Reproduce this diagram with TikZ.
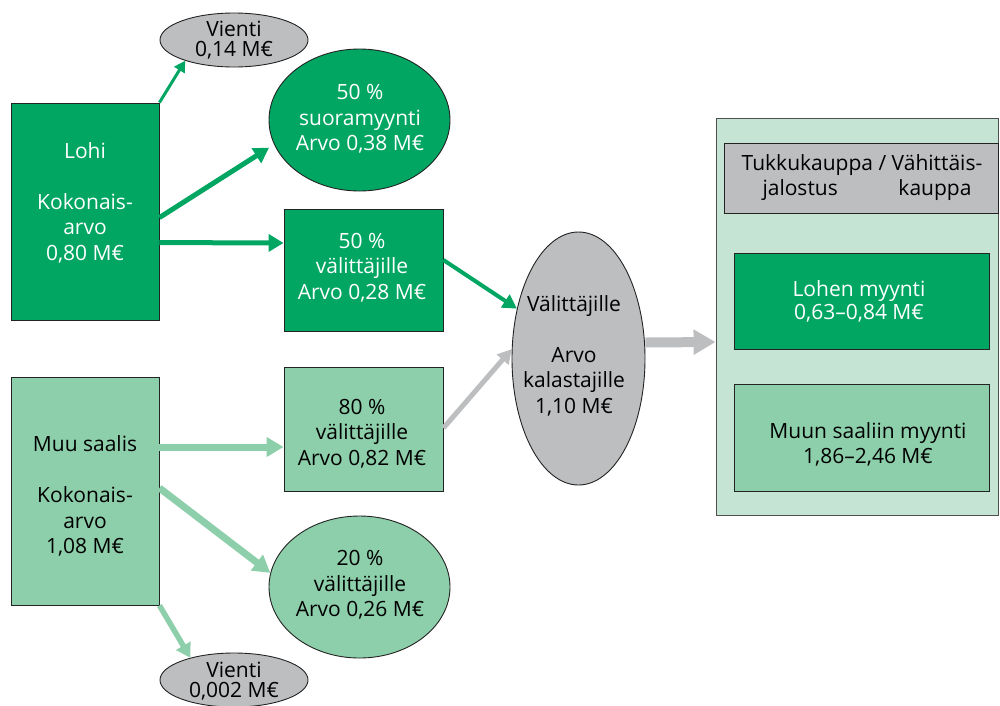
\documentclass[tikz,border=0pt]{standalone}
\usepackage{fontspec}
\setmainfont{Open Sans}
\usetikzlibrary{arrows.meta,shapes.geometric,calc}
\definecolor{dkgreen}{RGB}{0,166,98}
\definecolor{ltgreen}{RGB}{141,207,170}
\definecolor{panelbg}{RGB}{198,228,212}
\definecolor{greyfill}{RGB}{188,190,192}
\definecolor{edge}{RGB}{35,35,35}
\begin{document}
\begin{tikzpicture}[x=1pt,y=-1pt,
  txt/.style={font=\fontsize{21}{25.5}\selectfont, align=center, inner sep=0pt},
  wtxt/.style={txt, text=white},
  box/.style={draw=edge, line width=0.9pt, rectangle, inner sep=0pt},
  oval/.style={draw=edge, line width=0.9pt, ellipse, inner sep=0pt},
  arrDk/.style={draw=dkgreen, line width=5pt, -{Triangle[length=15pt,width=17pt]}},
  arrDkThin/.style={draw=dkgreen, line width=3pt, -{Triangle[length=11pt,width=12pt]}},
  arrDkMid/.style={draw=dkgreen, line width=4pt, -{Triangle[length=14pt,width=15pt]}},
  arrLt/.style={draw=ltgreen, line width=7pt, -{Triangle[length=17pt,width=19pt]}},
  arrLtMid/.style={draw=ltgreen, line width=5.5pt, -{Triangle[length=14pt,width=16pt]}},
  arrGr/.style={draw=greyfill, line width=5pt, -{Triangle[length=14pt,width=15pt]}},
  arrGrBig/.style={draw=greyfill, line width=10pt, -{Triangle[length=22pt,width=24pt]}}
]
\useasboundingbox (0,0) rectangle (1000,705);

% right panel
\node[box, draw=edge!80, fill=panelbg, minimum width=282pt, minimum height=397pt] (panel) at (857,316.5) {};
\node[box, fill=greyfill, minimum width=274pt, minimum height=70pt] (head) at (861,178) {};
\node[box, fill=dkgreen, minimum width=255pt, minimum height=96pt] (lohen) at (861.5,301) {};
\node[box, fill=ltgreen, minimum width=255pt, minimum height=107pt] (muun) at (861.5,437.5) {};

% left shapes
\node[oval, fill=greyfill, minimum width=148pt, minimum height=54pt] (vienti1) at (234,40) {};
\node[oval, fill=dkgreen, minimum width=181pt, minimum height=142pt] (suoram) at (359.5,120) {};
\node[box, fill=dkgreen, minimum width=148pt, minimum height=217pt] (lohi) at (85,211.5) {};
\node[box, fill=dkgreen, minimum width=159pt, minimum height=122pt] (box50) at (363.5,270) {};
\node[oval, fill=greyfill, minimum width=133pt, minimum height=253pt] (grey) at (578.5,358.5) {};
\node[box, fill=ltgreen, minimum width=148pt, minimum height=228pt] (muu) at (85,491) {};
\node[box, fill=ltgreen, minimum width=159pt, minimum height=124pt] (box80) at (363.5,429) {};
\node[oval, fill=ltgreen, minimum width=181pt, minimum height=142pt] (ell20) at (359.5,587) {};
\node[oval, fill=greyfill, minimum width=148pt, minimum height=54pt] (vienti2) at (234,680) {};

% texts
\node[txt, font=\fontsize{21}{20}\selectfont] (vienti1T) at (234,40) {Vienti\\0,14 M€};
\node[wtxt] (suoramT) at (360,119) {50 \%\\suoramyynti\\Arvo 0,38 M€};
\node[wtxt] (lohiT) at (85,202.5) {Lohi\\[25.5pt]Kokonais-\\arvo\\0,80 M€};
\node[wtxt] (box50T) at (362,267.5) {50 \%\\välittäjille\\Arvo 0,28 M€};
\node[txt] (greyT) at (574,355.5) {Välittäjille\\[25.5pt]Arvo\\kalastajille\\1,10 M€};
\node[txt] (muuT) at (85,496) {Muu saalis\\[25.5pt]Kokonais-\\arvo\\1,08 M€};
\node[txt] (box80T) at (362,433.5) {80 \%\\välittäjille\\Arvo 0,82 M€};
\node[txt] (ell20T) at (360,585) {20 \%\\välittäjille\\Arvo 0,26 M€};
\node[txt, font=\fontsize{21}{19.5}\selectfont] (vienti2T) at (234,681) {Vienti\\0,002 M€};
\node[txt, font=\fontsize{21}{25}\selectfont] (headT) at (862,177.5) {Tukkukauppa / Vähittäis-\\\hspace*{10pt}\makebox[209pt][s]{jalostus\hfill kauppa}};
\node[wtxt, font=\fontsize{21}{23}\selectfont] (lohenT) at (859,301.5) {Lohen myynti\\0,63–0,84 M€};
\node[txt, font=\fontsize{21}{25}\selectfont] (muunT) at (868,444.5) {Muun saaliin myynti\\1,86–2,46 M€};

% connectors
\draw[arrDkThin] (lohi.north east) -- (vienti1.203);
\draw[arrDk, shorten >=6pt] ([yshift=-115pt]lohi.north east) -- (suoram.196);
\draw[arrDk] ([yshift=-140pt]lohi.north east) -- ([yshift=27pt]box50.west);
\draw[arrDkMid] ([yshift=10pt]box50.east) -- (grey.141);
\draw[arrGr] ([yshift=1pt]box80.east) -- (grey.172);
\draw[arrGrBig] ([yshift=16pt]grey.east) -- ([yshift=-25.5pt]panel.west);
\draw[arrLt] ([yshift=44pt]muu.east) -- ([yshift=-18pt]box80.west);
\draw[arrLt] ([yshift=3pt]muu.east) -- (ell20.171);
\draw[arrLtMid] (muu.south east) -- (vienti2.153);
\end{tikzpicture}
\end{document}
